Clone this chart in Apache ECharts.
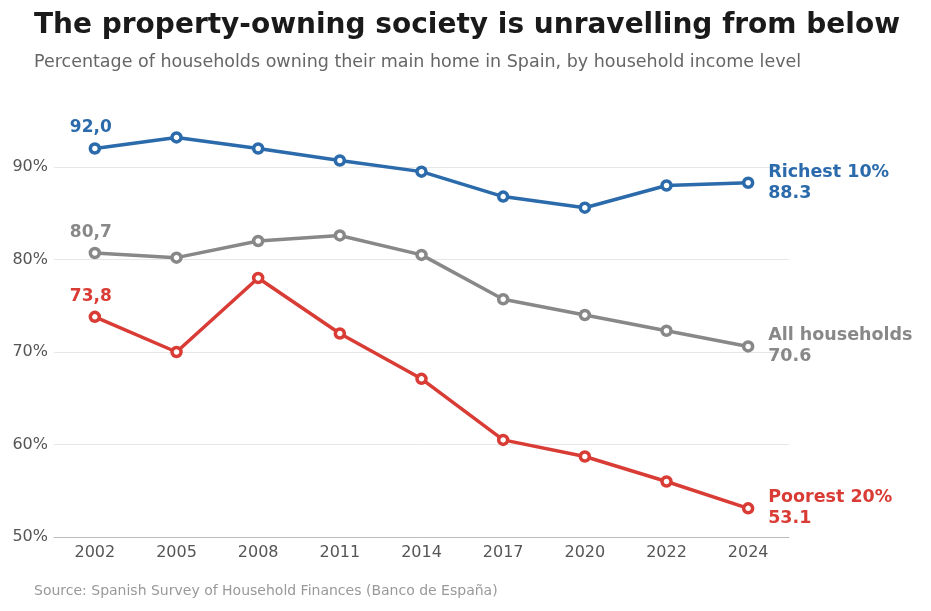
<!DOCTYPE html>
<html>
<head>
    <meta charset="utf-8">
    <title>Property ownership Spain</title>
    <script src="https://cdn.jsdelivr.net/npm/echarts@6/dist/echarts.min.js"></script>
</head>
<body style="margin:0">
    <div id="demo" style="width:931px;height:611px;"></div>
    <script type="text/javascript">
        var years = ['2002', '2005', '2008', '2011', '2014', '2017', '2020', '2022', '2024'];
        var richest = [92.0, 93.2, 92.0, 90.7, 89.5, 86.8, 85.6, 88.0, 88.3];
        var allHouseholds = [80.7, 80.2, 82.0, 82.6, 80.5, 75.7, 74.0, 72.3, 70.6];
        var poorest = [73.8, 70.0, 78.0, 72.0, 67.1, 60.5, 58.7, 56.0, 53.1];

        var chart = echarts.init(document.getElementById('demo'));
        var font = 'DejaVu Sans';

        function makeSeries(name, data, color, endName) {
            return {
                name: name,
                type: 'line',
                data: data,
                clip: false,
                symbol: 'circle',
                symbolSize: 9,
                lineStyle: { width: 3.5, color: color },
                itemStyle: { color: '#fff', borderColor: color, borderWidth: 3.5 },
                label: {
                    show: true,
                    position: 'top',
                    distance: 6,
                    offset: [-4, 0],
                    color: color,
                    fontFamily: font,
                    fontWeight: 'bold',
                    fontSize: 17,
                    formatter: function (p) {
                        return p.dataIndex === 0 ? p.value.toFixed(1).replace('.', ',') : '';
                    }
                },
                endLabel: {
                    show: true,
                    distance: 20,
                    color: color,
                    fontFamily: font,
                    fontWeight: 'bold',
                    fontSize: 17.5,
                    lineHeight: 21,
                    formatter: function (p) {
                        return endName + '\n' + p.value.toFixed(1);
                    }
                },
                emphasis: { disabled: true }
            };
        }

        chart.setOption({
            animation: false,
            title: [
                {
                    text: 'The property-owning society is unravelling from below',
                    left: 29, top: 7,
                    textStyle: { fontFamily: font, fontSize: 28, fontWeight: 'bold', color: '#1a1a1a' }
                },
                {
                    text: 'Percentage of households owning their main home in Spain, by household income level',
                    left: 29, top: 48,
                    textStyle: { fontFamily: font, fontSize: 17.5, fontWeight: 'normal', color: '#666' }
                },
                {
                    text: 'Source: Spanish Survey of Household Finances (Banco de España)',
                    left: 29, top: 579,
                    textStyle: { fontFamily: font, fontSize: 14, fontWeight: 'normal', color: '#999' }
                }
            ],
            grid: { left: 54, right: 142, top: 167, bottom: 74 },
            xAxis: {
                type: 'category',
                data: years,
                axisLine: { lineStyle: { color: '#bbb' } },
                axisTick: { show: false },
                axisLabel: { color: '#555', fontFamily: font, fontSize: 16, margin: 8 }
            },
            yAxis: {
                type: 'value',
                min: 50, max: 90, interval: 10,
                axisLine: { show: false },
                axisTick: { show: false },
                splitLine: { lineStyle: { color: '#e6e6e6' } },
                axisLabel: { color: '#555', fontFamily: font, fontSize: 16, margin: 6, formatter: '{value}%' }
            },
            series: [
                makeSeries('Richest 10%', richest, '#2b6aab', 'Richest 10%'),
                makeSeries('All households', allHouseholds, '#888888', 'All households'),
                makeSeries('Poorest 20%', poorest, '#d93c35', 'Poorest 20%')
            ]
        });
    </script>
</body>
</html>
